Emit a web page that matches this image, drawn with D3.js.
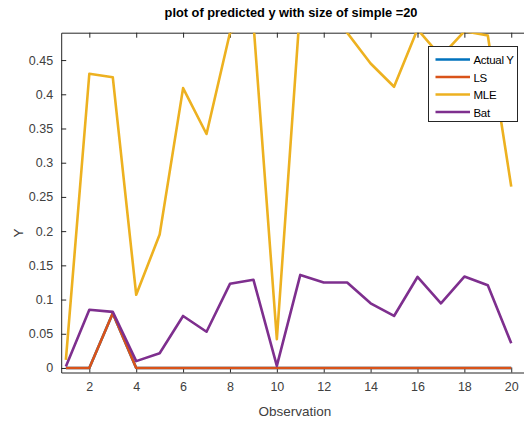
<!DOCTYPE html>
<html>
<head>
<meta charset="utf-8">
<script src="https://cdn.jsdelivr.net/npm/d3@7"></script>
<style>
    body { margin: 0; background: #fff; }
    text { font-family: "Liberation Sans", Arial, sans-serif; }
</style>
</head>
<body>
<div id="chart"></div>
<script>
// values
let observation = d3.range(1, 21);
let actualY = [0, 0, 0.08, 0, 0, 0, 0, 0, 0, 0, 0, 0, 0, 0, 0, 0, 0, 0, 0, 0];
let ls      = [0, 0, 0.08, 0, 0, 0, 0, 0, 0, 0, 0, 0, 0, 0, 0, 0, 0, 0, 0, 0];
let mle     = [0.012, 0.430, 0.425, 0.107, 0.195, 0.409, 0.342, 0.490, 0.505, 0.042,
               0.53, 0.52, 0.490, 0.445, 0.411, 0.495, 0.455, 0.492, 0.486, 0.265];
let bat     = [0.002, 0.085, 0.082, 0.010, 0.0215, 0.076, 0.053, 0.123, 0.129, 0.003,
               0.136, 0.125, 0.125, 0.0945, 0.076, 0.133, 0.0945, 0.1336, 0.121, 0.036];

let seriesNames = ["Actual Y", "LS", "MLE", "Bat"];
let seriesColors = ["#0072BD", "#D95319", "#EDB120", "#7E2F8E"];
let xTicks = [2, 4, 6, 8, 10, 12, 14, 16, 18, 20];
let yTicks = [0, 0.05, 0.1, 0.15, 0.2, 0.25, 0.3, 0.35, 0.4, 0.45];
let yTickLabels = ["0", "0.05", "0.1", "0.15", "0.2", "0.25", "0.3", "0.35", "0.4", "0.45"];

let W = 524, H = 421;
let margin = {left: 61.2, right: 530, top: 32.7, bottom: 372.5};

let svg = d3.select("#chart").append("svg")
    .attr("width", W)
    .attr("height", H);

let xScale = d3.scaleLinear().domain([0.8, 20.8]).range([margin.left, margin.right]);
let yScale = d3.scaleLinear().domain([-0.0066, 0.49]).range([margin.bottom, margin.top]);

svg.append("clipPath").attr("id", "plotclip")
    .append("rect")
    .attr("x", margin.left).attr("y", margin.top)
    .attr("width", margin.right - margin.left).attr("height", margin.bottom - margin.top);

let axisColor = "#262626";
let labelColor = "#404040";

// axes: ticks point inwards like matlab
let xAxis = d3.axisBottom(xScale).tickValues(xTicks).tickSizeInner(-5).tickSizeOuter(0).tickPadding(10);
let xAxisTop = d3.axisTop(xScale).tickValues(xTicks).tickSizeInner(-5).tickSizeOuter(0).tickFormat("");
let yAxis = d3.axisLeft(yScale).tickValues(yTicks).tickSizeInner(-5).tickSizeOuter(0).tickPadding(8)
    .tickFormat((d, i) => yTickLabels[i]);

function styleAxis(g) {
    g.selectAll(".domain").attr("stroke", axisColor).attr("stroke-width", 1);
    g.selectAll(".tick line").attr("stroke", axisColor).attr("stroke-width", 1);
    g.selectAll(".tick text").attr("fill", labelColor).attr("font-size", 12.5)
        .style("font-family", "'Liberation Sans', Arial, sans-serif");
}

svg.append("g")
    .attr("transform", "translate(0," + margin.bottom + ")")
    .call(xAxis)
    .call(styleAxis);

svg.append("g")
    .attr("transform", "translate(0," + margin.top + ")")
    .call(xAxisTop)
    .call(styleAxis);

svg.append("g")
    .attr("transform", "translate(" + margin.left + ",0)")
    .call(yAxis)
    .call(styleAxis);

// lines
let allSeries = [actualY, ls, mle, bat];
let line = d3.line()
    .x((d, i) => xScale(observation[i]))
    .y(d => yScale(d));

let plot = svg.append("g").attr("clip-path", "url(#plotclip)");
allSeries.forEach(function(s, k) {
    plot.append("path")
        .datum(s)
        .attr("d", line)
        .attr("fill", "none")
        .attr("stroke", seriesColors[k])
        .attr("stroke-width", 2.6)
        .attr("stroke-linejoin", "round");
});

// title and axis labels
svg.append("text")
    .attr("x", 291).attr("y", 17)
    .attr("text-anchor", "middle")
    .attr("font-size", 12.8)
    .attr("font-weight", "bold")
    .attr("fill", "#000")
    .text("plot of predicted y with size of simple =20");

svg.append("text")
    .attr("x", 295).attr("y", 416)
    .attr("text-anchor", "middle")
    .attr("font-size", 13.5)
    .attr("fill", labelColor)
    .text("Observation");

svg.append("text")
    .attr("transform", "translate(23,233) rotate(-90)")
    .attr("text-anchor", "middle")
    .attr("font-size", 13.5)
    .attr("fill", labelColor)
    .text("Y");

// legend
let legend = svg.append("g").attr("transform", "translate(428.5,46.5)");
legend.append("rect")
    .attr("width", 89).attr("height", 75)
    .attr("fill", "#fff")
    .attr("stroke", axisColor)
    .attr("stroke-width", 1);

seriesNames.forEach(function(name, k) {
    let y = 13 + k * 17.5;
    legend.append("line")
        .attr("x1", 7).attr("x2", 41.5)
        .attr("y1", y).attr("y2", y)
        .attr("stroke", seriesColors[k])
        .attr("stroke-width", 2.6);
    legend.append("text")
        .attr("x", 45).attr("y", y + 4.5)
        .attr("font-size", 11.5)
        .attr("letter-spacing", -0.3)
        .attr("fill", "#000")
        .text(name);
});
</script>
</body>
</html>
